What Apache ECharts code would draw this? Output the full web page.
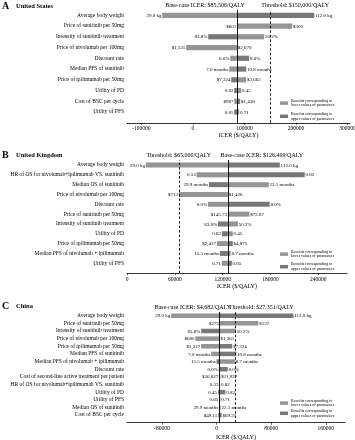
<!DOCTYPE html>
<html><head><meta charset="utf-8">
<script src="https://cdn.jsdelivr.net/npm/echarts@6/dist/echarts.min.js"></script>
<style>html,body{margin:0;padding:0;background:#fff}#c{width:355px;height:440px}</style>
</head><body><div id="c"></div>
<script>
// ---------- Panel A: United States ----------
const usParams = ['Average body weight','Price of sunitinib per 50mg','Intensity of sunitinib treatment','Price of nivolumab per 100mg','Discount rate','Median PFS of sunitinib','Price of ipilimumab per 50mg','Utility of PD','Cost of BSC per cycle','Utility of PFS'];
const usLeftICER  = [-59600, 85506, 29700, -13000, 72400, 70500, 74400, 80200, 80200, 80200];
const usRightICER = [235500, 192800, 138400, 85506, 109300, 103500, 103500, 93800, 91800, 89900];
const usLeftText  = ['29.0 kg','$601','83.8%','$1,335','0.0%','7.0 months','$7,324','0.82','$987','0.85'];
const usRightText = ['112.0 kg','$300','50.2%','$2,670','8.0%','10.8 months','$3,662','0.45','$1,438','0.71'];
const usLeftIsLower = [true,false,false,true,true,true,false,false,true,false];
const usBase = 85506, usThreshold = 150000;
const usTicks = [-100000, 0, 100000, 200000, 300000];

// ---------- Panel B: United Kingdom ----------
const ukParams = ['Average body weight','HR of OS for nivolumab+ipilimumab VS. sunitinib','Median OS of sunitinib','Price of nivolumab per 100mg','Discount rate','Price of sunitinib per 50mg','Intensity of sunitinib treatment','Utility of PD','Price of ipilimumab per 50mg','Median PFS of nivolumab + ipilimumab','Utility of PFS'];
const ukLeftICER  = [23600, 87200, 102900, 65000, 101500, 126499, 114000, 119000, 112700, 116500, 119000];
const ukRightICER = [191700, 223000, 177900, 126499, 179000, 153600, 139100, 132700, 132700, 130000, 131500];
const ukLeftText  = ['29.0 kg','0.53','29.9 months','$713','0.0%','$145.73','83.8%','0.82','$2,437','15.5 months','0.71'];
const ukRightText = ['112.0 kg','0.82','22.1 months','$1,426','8.0%','$72.87','50.2%','0.45','$4,875','8.7 months','0.85'];
const ukLeftIsLower = [true,true,false,true,true,false,false,false,true,false,true];
const ukBase = 126499, ukThreshold = 65000;
const ukTicks = [0, 60000, 120000, 180000, 240000];

// ---------- Panel C: China ----------
const cnParams = ['Average body weight','Price of sunitinib per 50mg','Intensity of sunitinib treatment','Price of nivolumab per 100mg','Price of ipilimumab per 50mg','Median PFS of sunitinib','Median PFS of nivolumab + ipilimumab','Discount rate','Cost of second-line active treatment per patient','HR of OS for nivolumab+ipilimumab VS. sunitinib','Utility of PD','Utility of PFS','Median OS of sunitinib','Cost of BSC per cycle'];
const cnLeftICER  = [-66500, 4682, -22500, -31000, -22500, -7800, 0, 3200, 3800, 4200, 2000, 3800, 3500, 2500];
const cnRightICER = [112600, 61200, 28500, 4682, 23000, 28900, 27000, 16400, 5600, 5200, 13000, 5600, 6000, 7500];
const cnLeftText  = ['29.0 kg','$275','83.8%','$680','$2,327','7.0 months','15.5 months','0.0%','$26,627','0.53','0.45','0.85','29.9 months','$49.15'];
const cnRightText = ['112.0 kg','$137','50.2%','$1,361','$7,324','10.8 months','8.7 months','8.0%','$11,927','0.82','0.82','0.71','22.1 months','$69.21'];
const cnLeftIsLower = [true,false,false,true,true,true,false,true,false,true,true,false,false,true];
const cnBase = 4682, cnThreshold = 27351;
const cnTicks = [-80000, 0, 80000, 160000];

const LOWER_NAME = 'Benefits corresponding to\nlower values of parameters';
const UPPER_NAME = 'Benefits corresponding to\nupper values of parameters';
const LIGHT = '#959595', DARK = '#787878';
const FONT = '"Liberation Serif", "Times New Roman", serif';

const panels = [
  {letter:'A', name:'United States', params:usParams, left:usLeftICER, right:usRightICER, lt:usLeftText, rt:usRightText, lil:usLeftIsLower, base:usBase, thr:usThreshold, ticks:usTicks,
   grid:{left:127, top:9.9, width:223, height:112.9}, min:-128000, max:305000, barH:5.2, baseDx:-32, thrDx:25,
   titleTop:1, legendTop:98.5, legendGap:4, nameGap:10, baseLabel:'Base-case ICER: $85,506/QALY', thrLabel:'Threshold: $150,000/QALY'},
  {letter:'B', name:'United Kingdom', params:ukParams, left:ukLeftICER, right:ukRightICER, lt:ukLeftText, rt:ukRightText, lil:ukLeftIsLower, base:ukBase, thr:ukThreshold, ticks:ukTicks,
   grid:{left:127, top:160.1, width:220, height:113}, min:0, max:276000, barH:5, baseDx:34, thrDx:0,
   titleTop:150, legendTop:249.5, legendGap:3.4, nameGap:10, baseLabel:'Base-case ICER: $126,499/QALY', thrLabel:'Threshold: $65,000/QALY'},
  {letter:'C', name:'China', params:cnParams, left:cnLeftICER, right:cnRightICER, lt:cnLeftText, rt:cnRightText, lil:cnLeftIsLower, base:cnBase, thr:cnThreshold, ticks:cnTicks,
   grid:{left:127, top:311.9, width:218, height:110.8}, min:-131000, max:188000, barH:4.5, baseDx:-27, thrDx:26,
   titleTop:301.5, legendTop:398.5, legendGap:1, nameGap:12, baseLabel:'Base-case ICER: $4,682/QALY', thrLabel:'Threshold: $27,351/QALY'}
];

const option = {animation:false, backgroundColor:'#fff', title:[], legend:[], grid:[], xAxis:[], yAxis:[], series:[]};

function makeRender(base, barH, color, texts) {
  return function(params, api) {
    const row = api.value(0), end = api.value(1), side = api.value(2);
    const p0 = api.coord([base, row]);
    const p1 = api.coord([end, row]);
    const x = Math.min(p0[0], p1[0]);
    const w = Math.abs(p1[0] - p0[0]);
    const txt = texts[params.dataIndex];
    return {type:'group', children:[
      {type:'rect', shape:{x:x, y:p1[1]-barH/2, width:w, height:barH}, style:{fill:color}},
      {type:'text', x: side < 0 ? p1[0]-0.8 : p1[0]+0.8, y:p1[1]+0.3, z2:5,
       style:{text:txt, fill:'#000', fontSize:5, fontFamily:FONT, align: side < 0 ? 'right' : 'left', verticalAlign:'middle'}}
    ]};
  };
}

panels.forEach((p, i) => {
  const n = p.params.length;
  option.title.push({text:'{b|' + p.letter + '}{n|' + p.name + '}', left:2, top:p.titleTop, padding:0,
    textStyle:{rich:{b:{fontSize:10, fontWeight:'bold', fontFamily:FONT, color:'#000', width:14}, n:{fontSize:6.5, fontFamily:FONT, color:'#000'}}}});
  option.grid.push(Object.assign({containLabel:false, outerBoundsMode:'none'}, p.grid));
  option.xAxis.push({type:'value', gridIndex:i, min:p.min, max:p.max,
    axisLine:{show:true, lineStyle:{color:'#000', width:0.8}}, splitLine:{show:false},
    axisTick:{show:true, length:2, lineStyle:{color:'#000', width:0.6}, customValues:p.ticks},
    axisLabel:{customValues:p.ticks, formatter:(v)=>String(v), fontSize:5.5, fontFamily:FONT, color:'#000', margin:3},
    name:'ICER ($/QALY)', nameLocation:'middle', nameGap:p.nameGap, nameTextStyle:{fontSize:6, fontFamily:FONT, color:'#000'}});
  const rows = []; for (let k = 1; k <= n; k++) rows.push(k);
  option.yAxis.push({type:'value', gridIndex:i, inverse:true, min:0.5, max:n+1,
    axisLine:{show:false}, axisTick:{show:false}, splitLine:{show:false},
    axisLabel:{customValues:rows, formatter:(v)=>p.params[Math.round(v)-1] || '', fontSize:5.5, fontFamily:FONT, color:'#000', margin:3}});
  const lowData = [], lowTxt = [], upData = [], upTxt = [];
  for (let k = 0; k < n; k++) {
    const leftItem = [k+1, p.left[k], -1], rightItem = [k+1, p.right[k], 1];
    if (p.lil[k]) { lowData.push(leftItem); lowTxt.push(p.lt[k]); upData.push(rightItem); upTxt.push(p.rt[k]); }
    else { upData.push(leftItem); upTxt.push(p.lt[k]); lowData.push(rightItem); lowTxt.push(p.rt[k]); }
  }
  const lineLabel = (txt, dx) => ({show:true, position:'end', formatter:txt, color:'#000', fontSize:6, fontFamily:FONT, distance:1.5, offset:[dx,0]});
  option.series.push({type:'custom', name:LOWER_NAME, xAxisIndex:i, yAxisIndex:i, data:lowData, renderItem:makeRender(p.base, p.barH, LIGHT, lowTxt), itemStyle:{color:LIGHT}, silent:true,
    markLine:{symbol:'none', silent:true, animation:false, data:[
      [{coord:[p.base, n+1], lineStyle:{color:'#000', width:0.9, type:'solid'}, label:lineLabel(p.baseLabel, p.baseDx)}, {coord:[p.base, 0.5]}],
      [{coord:[p.thr, n+1], lineStyle:{color:'#000', width:0.9, type:[2.5,2]}, label:lineLabel(p.thrLabel, p.thrDx)}, {coord:[p.thr, 0.5]}]
    ]}});
  option.series.push({type:'custom', name:UPPER_NAME, xAxisIndex:i, yAxisIndex:i, data:upData, renderItem:makeRender(p.base, p.barH, DARK, upTxt), itemStyle:{color:DARK}, silent:true});
  option.legend.push({orient:'vertical', left:280, top:p.legendTop, padding:0, itemGap:p.legendGap, itemWidth:8, itemHeight:3.5, selectedMode:false,
    data:[{name:LOWER_NAME, icon:'rect', itemStyle:{color:LIGHT}}, {name:UPPER_NAME, icon:'rect', itemStyle:{color:DARK}}],
    textStyle:{fontSize:4, lineHeight:4.6, fontFamily:FONT, color:'#000', padding:[0,0,0,-2]}});
});

const chart = echarts.init(document.getElementById('c'));
chart.setOption(option);
</script></body></html>
